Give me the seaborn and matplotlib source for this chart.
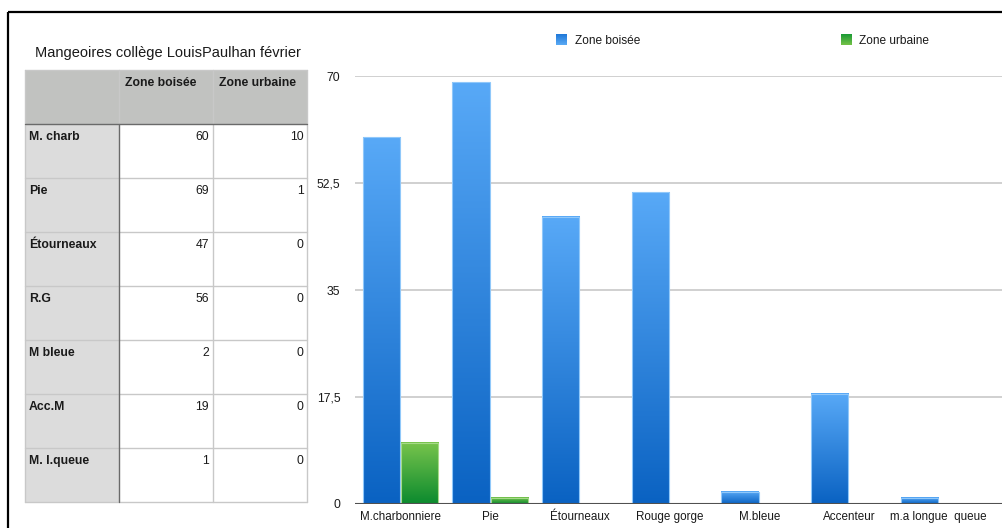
import numpy as np
import pandas as pd
import matplotlib
matplotlib.use("Agg")
import matplotlib.pyplot as plt
from matplotlib.patches import Rectangle
from matplotlib.colors import LinearSegmentedColormap
import seaborn as sns

# ---------------- data ----------------
species = ["M.charbonniere", "Pie", "Étourneaux", "Rouge gorge", "M.bleue",
           "Accenteur", "m.a longue  queue"]
zone_boisee = [60, 69, 47, 51, 2, 18, 1]
zone_urbaine = [10, 1, 0, 0, 0, 0, 0]
series_names = ["Zone boisée", "Zone urbaine"]
y_ticks = [0, 17.5, 35, 52.5, 70]
y_tick_labels = ["0", "17,5", "35", "52,5", "70"]

table_title = "Mangeoires collège LouisPaulhan février"
table_rows = ["M. charb", "Pie", "Étourneaux", "R.G", "M bleue", "Acc.M", "M. l.queue"]
table_boisee = [60, 69, 47, 56, 2, 19, 1]
table_urbaine = [10, 1, 0, 0, 0, 0, 0]

df = pd.DataFrame({
    "espece": species * 2,
    "valeur": zone_boisee + zone_urbaine,
    "zone": [series_names[0]] * len(species) + [series_names[1]] * len(species),
})

sns.set_theme(style="white")
plt.rcParams["font.family"] = ["Liberation Sans", "DejaVu Sans"]

W, H = 1003, 528
fig = plt.figure(figsize=(W / 100, H / 100), dpi=100)

# overlay axes in pixel coordinates (table, frame, legend)
ov = fig.add_axes([0, 0, 1, 1])
ov.set_xlim(0, W)
ov.set_ylim(H, 0)
ov.axis("off")

# frame (top and left only)
ov.plot([8, W + 5], [12, 12], color="black", lw=1.6, solid_capstyle="butt", clip_on=False)
ov.plot([8, 8], [12, H + 5], color="black", lw=1.6, solid_capstyle="butt", clip_on=False)

# title
ov.text(35, 53, table_title, fontsize=10.5, color="#1a1a1a", va="center", ha="left")

# table geometry
tx = [25, 119, 213, 307.5]
ty0, th_head, row_h = 70, 54.3, 54.0
light = "#c8c8c8"
dark = "#6a6a6a"
tfs = 8.8
ov.add_patch(Rectangle((tx[0], ty0), tx[3] - tx[0], th_head, facecolor="#c1c2c0",
                       edgecolor="none"))
ybody = ty0 + th_head
for i, (lab, b, u) in enumerate(zip(table_rows, table_boisee, table_urbaine)):
    y = ybody + i * row_h
    ov.add_patch(Rectangle((tx[0], y), tx[1] - tx[0], row_h, facecolor="#dcdcdc",
                           edgecolor="none"))
    ov.text(tx[0] + 4, y + 13, lab, fontsize=tfs, fontweight="bold", color="#1a1a1a",
            va="center", ha="left")
    ov.text(tx[2] - 4, y + 13, str(b), fontsize=tfs, color="#1a1a1a", va="center", ha="right")
    ov.text(tx[3] - 4, y + 13, str(u), fontsize=tfs, color="#1a1a1a", va="center", ha="right")
ybot = ybody + len(table_rows) * row_h
for i, col in enumerate(series_names):
    ov.text(tx[i + 1] + 6, ty0 + 13, col, fontsize=tfs, fontweight="bold", color="#1a1a1a",
            va="center", ha="left")
# grid lines
for i in range(1, len(table_rows)):
    y = ybody + i * row_h
    ov.plot([tx[0], tx[3]], [y, y], color=light, lw=1.0)
ov.plot([tx[0], tx[3]], [ty0, ty0], color=light, lw=1.0)
ov.plot([tx[0], tx[3]], [ybot, ybot], color=light, lw=1.0)
for x in [tx[0], tx[2], tx[3]]:
    ov.plot([x, x], [ty0, ybot], color=light, lw=1.0)
ov.plot([tx[1], tx[1]], [ty0, ybody], color=light, lw=1.0)
ov.plot([tx[1], tx[1]], [ybody, ybot], color=dark, lw=1.0)
ov.plot([tx[0], tx[3]], [ybody, ybody], color=dark, lw=1.0)

# legend
leg_cols = [("#1f78d8", "#5aaaf5"), ("#1a9a35", "#74c247")]
for (x_sq, x_txt), name, (c_bot, c_top) in zip([(556, 575), (841, 859)], series_names, leg_cols):
    grad = np.linspace(0, 1, 50).reshape(-1, 1)
    cmap = LinearSegmentedColormap.from_list("g", [c_top, c_bot])
    ov.imshow(grad, extent=[x_sq, x_sq + 11, 45.5, 34.5], cmap=cmap, aspect="auto",
              origin="lower", zorder=3)
    ov.text(x_txt, 40.5, name, fontsize=8.6, color="#1a1a1a", va="center", ha="left")
ov.set_xlim(0, W)
ov.set_ylim(H, 0)

# ---------------- bar chart ----------------
ax_left, ax_right = 355, W
ax_bottom, ax_top = 504, 76
ax = fig.add_axes([ax_left / W, (H - ax_bottom) / H, (ax_right - ax_left) / W,
                   (ax_bottom - ax_top) / H])
ax.set_facecolor("none")

palette = {series_names[0]: "#2a85e0", series_names[1]: "#3aa53a"}
sns.barplot(data=df, x="espece", y="valeur", hue="zone", order=species,
            hue_order=series_names, palette=palette, width=0.86, gap=0.035,
            errorbar=None, legend=False, ax=ax, zorder=2)

grads = {
    series_names[0]: ("#0a62c2", "#58a9f7", "#90c8fa"),
    series_names[1]: ("#0b8a2e", "#78c44c", "#a6da88"),
}
bars = [p for p in ax.patches if isinstance(p, Rectangle)]
n = len(species)
for k, p in enumerate(bars):
    name = series_names[k // n]
    c_bot, c_top, c_edge = grads[name]
    x0, w, h = p.get_x(), p.get_width(), p.get_height()
    if h <= 0:
        continue
    p.set_facecolor(c_top)
    p.set_edgecolor("none")
    cmap = LinearSegmentedColormap.from_list("b", [c_bot, c_top])
    grad = np.linspace(0, 1, 200).reshape(-1, 1)
    ax.imshow(grad, extent=[x0, x0 + w, 0, h], origin="lower", cmap=cmap,
              aspect="auto", zorder=3, interpolation="bilinear")
    ax.add_patch(Rectangle((x0, 0), w, h, fill=False, edgecolor=c_edge, lw=0.8, zorder=4))

xl = -(400.5 - ax_left) / 89.7
xr = len(species) - 1 + (ax_right - 938.7) / 89.7
ax.set_xlim(xl, xr)
ax.set_ylim(0, 70)
ax.set_yticks(y_ticks)
ax.set_yticklabels(y_tick_labels)
for yv in y_ticks[1:]:
    ax.axhline(yv, color="#c4c4c4", lw=1.1, zorder=1)
ax.axhline(0, color="#505050", lw=1.5, zorder=5)
for s in ax.spines.values():
    s.set_visible(False)
ax.tick_params(axis="both", length=0, colors="#1a1a1a")
ax.tick_params(axis="x", labelsize=8.4, pad=5)
ax.tick_params(axis="y", labelsize=8.8, pad=10.5)
ax.set_xlabel("")
ax.set_ylabel("")

fig.savefig("out.png", dpi=100, facecolor="white")
